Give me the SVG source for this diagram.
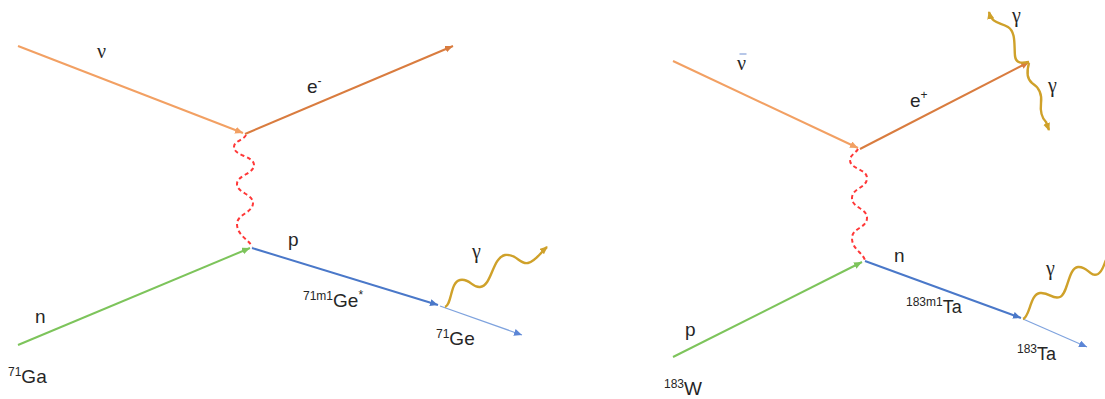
<svg xmlns="http://www.w3.org/2000/svg" width="1105" height="399" viewBox="0 0 1105 399">
<style>
.t{font-family:"Liberation Sans",Arial,sans-serif;font-size:19px;fill:#262626}
.g{font-family:"Liberation Serif","Times New Roman",serif;font-size:20px;fill:#262626}
.sup{font-size:12px}
.ln{fill:none;stroke-width:2}
.nu{stroke:#F2A063}
.el{stroke:#D97C3F}
.gr{stroke:#7DC45B}
.bl{stroke:#4A78C9}
.tb{stroke:#7FA3DE;stroke-width:1.2}
.wz{stroke:#FF3838;stroke-dasharray:4 3;stroke-width:2}
.gm{stroke:#CFA12A;stroke-width:2.4}
</style>
<defs>
<marker id="aNu" markerUnits="userSpaceOnUse" markerWidth="10" markerHeight="8" refX="8" refY="3.5" orient="auto"><path d="M0,0 L8,3.5 L0,7 z" fill="#F2A063"/></marker>
<marker id="aEl" markerUnits="userSpaceOnUse" markerWidth="10" markerHeight="8" refX="8" refY="3.5" orient="auto"><path d="M0,0 L8,3.5 L0,7 z" fill="#D97C3F"/></marker>
<marker id="aGr" markerUnits="userSpaceOnUse" markerWidth="10" markerHeight="8" refX="8" refY="3.5" orient="auto"><path d="M0,0 L8,3.5 L0,7 z" fill="#7DC45B"/></marker>
<marker id="aBl" markerUnits="userSpaceOnUse" markerWidth="10" markerHeight="8" refX="8" refY="3.5" orient="auto"><path d="M0,0 L8,3.5 L0,7 z" fill="#4A78C9"/></marker>
<marker id="aTb" markerUnits="userSpaceOnUse" markerWidth="10" markerHeight="8" refX="8" refY="3.5" orient="auto"><path d="M0,0 L8,3.5 L0,7 z" fill="#5C86D6"/></marker>
<marker id="aGm" markerUnits="userSpaceOnUse" markerWidth="10" markerHeight="8" refX="7" refY="3.5" orient="auto"><path d="M0,0 L8,3.5 L0,7 z" fill="#CFA12A"/></marker>
</defs>

<g id="connectors">
  <path class="ln nu" d="M18,46 L243,133" marker-end="url(#aNu)"/>
  <path class="ln el" d="M245,134 L453,46" marker-end="url(#aEl)"/>
  <path class="ln wz" d="M246,135 C244,140 234,141 234,147 C234,156 254,156 254,165 C254,174 237,175 237,184 C237,193 253,194 253,203 C253,213 237,214 237,224 C237,236 250,240 252,247"/>
  <path class="ln gr" d="M18,345 L250,248" marker-end="url(#aGr)"/>
  <path class="ln bl" d="M252,248 L438,305" marker-end="url(#aBl)"/>
  <path class="ln tb" d="M440,306 L522,335" marker-end="url(#aTb)"/>
  <path class="ln gm" d="M445,307 C452,305 450,282 460,280 C470,278 472,288 480,287 C492,286 492,258 505,255 C516,253 520,265 528,263 C536,261 540,253 547,247" marker-end="url(#aGm)"/>
  <path class="ln nu" d="M673,61 L858,148" marker-end="url(#aNu)"/>
  <path class="ln el" d="M860,149 L1029,62" marker-end="url(#aEl)"/>
  <path class="ln wz" d="M858,149 C856,153 850,155 850,160 C850,169 867,169 867,178 C867,188 852,188 852,198 C852,208 867,208 867,218 C867,228 852,228 852,238 C852,249 862,252 865,260"/>
  <path class="ln gr" d="M673,357 L862,262" marker-end="url(#aGr)"/>
  <path class="ln bl" d="M865,261 L1021,318" marker-end="url(#aBl)"/>
  <path class="ln tb" d="M1023,319 L1087,347" marker-end="url(#aTb)"/>
  <path class="ln gm" d="M1023,319 C1030,317 1030,294 1040,293 C1050,292 1052,300 1060,297 C1068,294 1068,268 1078,267 C1088,266 1090,278 1098,274 C1103,271 1104,264 1106,260"/>
  <path class="ln gm" d="M1029,62 C1022,63 1016,64 1015,56 C1014,45 1016,32 1008,27 C1000,22 992,24 989,12" marker-end="url(#aGm)"/>
  <path class="ln gm" d="M1029,63 C1027,70 1026,78 1032,83 C1040,88 1042,95 1041,103 C1040,112 1042,118 1046,122 L1049,130" marker-end="url(#aGm)"/>
</g>

<g id="nu-left"><text class="g" x="97" y="58">ν</text></g>
<g id="electron"><text class="t" x="307" y="93">e<tspan class="sup" dy="-8">-</tspan></text></g>
<g id="proton-left"><text class="t" x="288" y="246">p</text></g>
<g id="ge71m1"><text class="t" x="303" y="307"><tspan class="sup" dy="-7">71m1</tspan><tspan dy="7">Ge</tspan><tspan class="sup" dy="-8">*</tspan></text></g>
<g id="gamma-left"><text class="g" x="472" y="258">γ</text></g>
<g id="ge71"><text class="t" x="436" y="345"><tspan class="sup" dy="-7">71</tspan><tspan dy="7">Ge</tspan></text></g>
<g id="neutron-left"><text class="t" x="35" y="323">n</text></g>
<g id="ga71"><text class="t" x="8" y="383"><tspan class="sup" dy="-7">71</tspan><tspan dy="7">Ga</tspan></text></g>

<g id="antinu"><line x1="739.5" y1="54" x2="746.5" y2="54" stroke="#9FB4E0" stroke-width="1.5"/><text class="g" x="737" y="70">ν</text></g>
<g id="positron"><text class="t" x="910" y="107">e<tspan class="sup" dy="-8">+</tspan></text></g>
<g id="gamma-up"><text class="g" x="1012" y="22">γ</text></g>
<g id="gamma-down"><text class="g" x="1048" y="92">γ</text></g>
<g id="neutron-right"><text class="t" x="894" y="262">n</text></g>
<g id="ta183m1"><text class="t" x="906" y="313"><tspan class="sup" dy="-7">183m1</tspan><tspan dy="7" font-size="18">Ta</tspan></text></g>
<g id="gamma-right"><text class="g" x="1046" y="275">γ</text></g>
<g id="ta183"><text class="t" x="1017" y="360"><tspan class="sup" dy="-7">183</tspan><tspan dy="7" font-size="18">Ta</tspan></text></g>
<g id="proton-right"><text class="t" x="685" y="336">p</text></g>
<g id="w183"><text class="t" x="664" y="395"><tspan class="sup" dy="-7">183</tspan><tspan dy="7">W</tspan></text></g>
</svg>
